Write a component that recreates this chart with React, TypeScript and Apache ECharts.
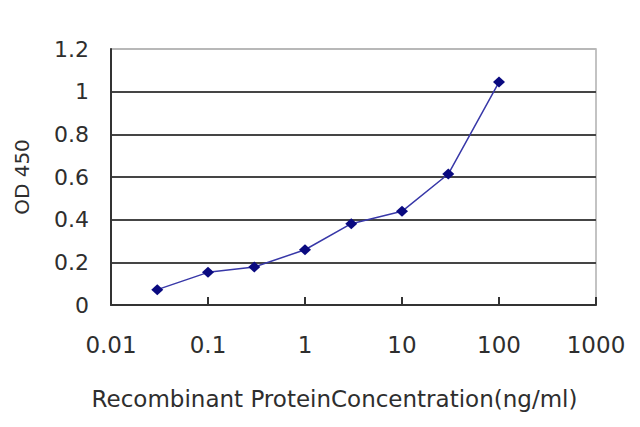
import React, { useEffect, useRef } from "react";
import * as echarts from "echarts";

const concentrations = [0.03, 0.1, 0.3, 1, 3, 10, 30, 100];
const odValues = [0.072, 0.153, 0.178, 0.259, 0.381, 0.439, 0.614, 1.045];
const xAxisTitle = "Recombinant ProteinConcentration(ng/ml)";
const yAxisTitle = "OD 450";
const xMin = 0.01;
const xMax = 1000;
const yMin = 0;
const yMax = 1.2;
const yStep = 0.2;
const splitColors = ["#333333", "#454545", "#454545", "#454545", "#454545", "#454545", "#b8b8b8"];

export default function App() {
  const ref = useRef<HTMLDivElement>(null);
  useEffect(() => {
    if (!ref.current) return;
    const chart = echarts.init(ref.current, null, { renderer: "svg" });
    const font = "DejaVu Sans";
    chart.setOption({
      animation: false,
      backgroundColor: "#ffffff",
      grid: {
        left: 111,
        right: 44,
        top: 49,
        bottom: 122,
        show: true,
        borderColor: "#b0b0b0",
        borderWidth: 1.5,
        backgroundColor: "transparent",
      },
      xAxis: {
        type: "log",
        logBase: 10,
        min: xMin,
        max: xMax,
        name: xAxisTitle,
        nameLocation: "middle",
        nameGap: 82,
        nameTextStyle: {
          fontFamily: font,
          fontSize: 23,
          color: "#2e2e2e",
          padding: [0, 38, 0, 0],
        },
        axisLine: { show: true, lineStyle: { color: "#333333", width: 2 } },
        axisTick: { show: true, inside: true, length: 8, lineStyle: { color: "#333333", width: 2 } },
        axisLabel: {
          margin: 28,
          fontFamily: font,
          fontSize: 23,
          color: "#2e2e2e",
          formatter: (v: number) => String(v),
        },
        splitLine: { show: false },
      },
      yAxis: {
        type: "value",
        min: yMin,
        max: yMax,
        interval: yStep,
        name: yAxisTitle,
        nameLocation: "middle",
        nameRotate: 90,
        nameGap: 79,
        nameTextStyle: { fontFamily: font, fontSize: 20, color: "#2e2e2e" },
        axisLine: { show: true, lineStyle: { color: "#333333", width: 2 } },
        axisTick: { show: false },
        axisLabel: {
          margin: 22,
          fontFamily: font,
          fontSize: 22,
          color: "#2e2e2e",
          formatter: (v: number) => String(+v.toFixed(1)),
        },
        splitLine: { show: true, lineStyle: { color: splitColors, width: 2 } },
      },
      series: [
        {
          type: "line",
          data: concentrations.map((c, i) => [c, odValues[i]]),
          symbol: "diamond",
          symbolSize: [12, 11],
          itemStyle: { color: "#0a0a80" },
          lineStyle: { color: "#3838a8", width: 1.5 },
        },
      ],
    });
    return () => chart.dispose();
  }, []);
  return (
    <div
      ref={ref}
      style={{ position: "fixed", left: 0, top: 0, width: 640, height: 427, background: "#fff" }}
    />
  );
}
